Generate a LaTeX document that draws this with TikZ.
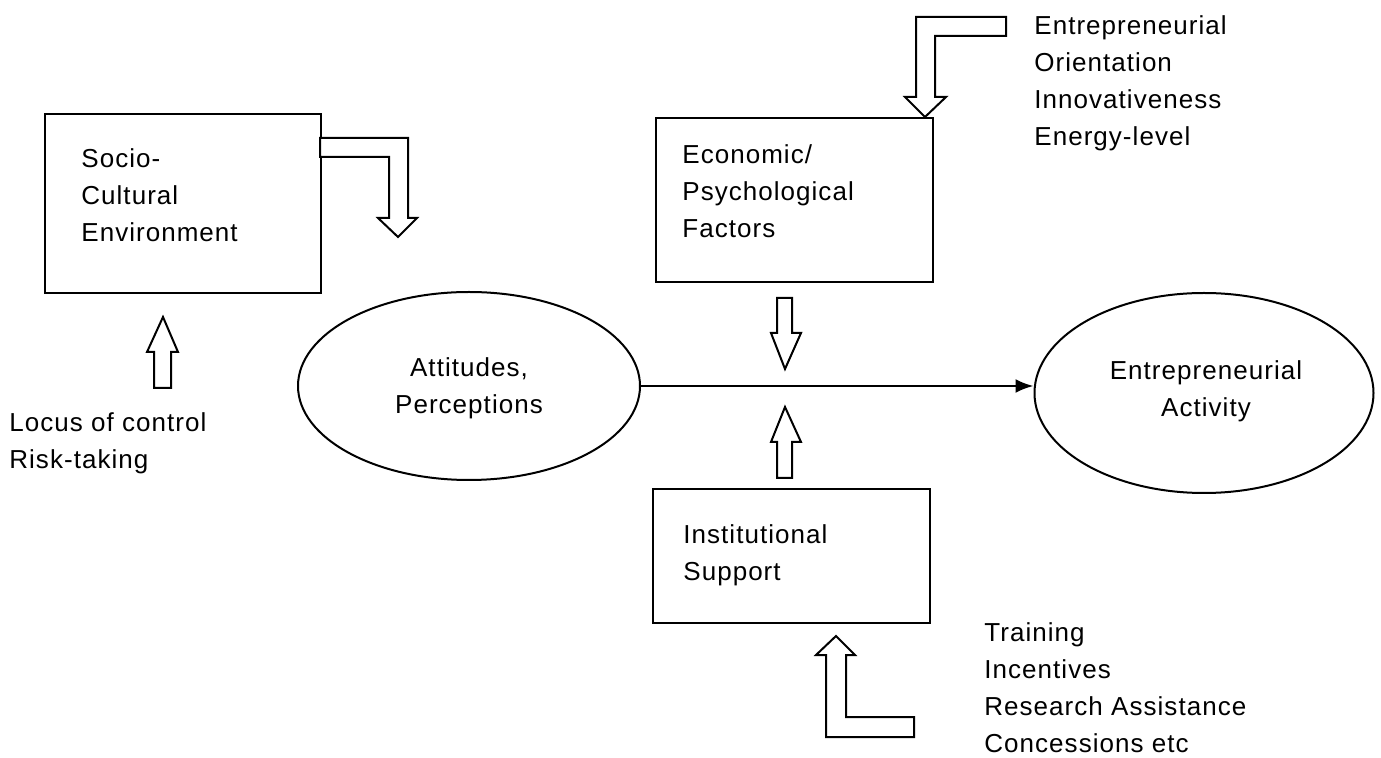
\documentclass[tikz,border=0pt]{standalone}
\usepackage{fontspec}
\setmainfont[LetterSpace=4]{Liberation Sans}
\usetikzlibrary{shapes.geometric,arrows.meta}
\begin{document}
\begin{tikzpicture}[x=0.5pt,y=-0.5pt,
  box/.style={draw,line width=1pt,rectangle,inner sep=0pt,anchor=north west},
  oval/.style={draw,line width=1pt,ellipse,inner sep=0pt},
  lbl/.style={inner sep=0pt,align=left,anchor=west,font=\fontsize{13}{18.5}\selectfont},
  clbl/.style={inner sep=0pt,align=center,font=\fontsize{13}{18.5}\selectfont},
  blk/.style={draw,line width=1pt,fill=white,line join=miter}]
\useasboundingbox (0,0) rectangle (1381,758);
% boxes
\node[box,minimum width=138pt,minimum height=89.5pt] (socio) at (44,113) {};
\node[box,minimum width=138.5pt,minimum height=82pt] (econ) at (655,117) {};
\node[box,minimum width=138.5pt,minimum height=67pt] (inst) at (652,488) {};
% ellipses
\node[oval,minimum width=171pt,minimum height=94pt] (att) at (469,386) {};
\node[oval,minimum width=169.5pt,minimum height=100pt] (act) at (1204,393) {};
% texts
\node[lbl] (tsocio) at (81,195) {Socio-\\Cultural\\Environment};
\node[lbl] (tecon) at (682,191) {Economic/\\Psychological\\Factors};
\node[lbl] (tinst) at (683,555) {Institutional\\Support};
\node[clbl] (tatt) at (469,388) {Attitudes,\\Perceptions};
\node[clbl] (tact) at (1206,391) {Entrepreneurial\\Activity};
\node[lbl] (tlocus) at (9,443) {Locus of control\\Risk-taking};
\node[lbl] (torient) at (1034,83) {Entrepreneurial\\Orientation\\Innovativeness\\Energy-level};
\node[lbl] (ttrain) at (984,688) {Training\\Incentives\\Research Assistance\\Concessions etc};
% main connector
\draw[line width=1.2pt,-{Latex[length=9pt,width=7pt]}] (att.east) -- (att.east -| act.west);
% block arrows
\draw[blk] (320,138) -- (408,138) -- (408,218) -- (417,218) -- (398,237) -- (378,218) -- (389,218) -- (389,157) -- (320,157) -- cycle;
\draw[blk] (1006,17) -- (916,17) -- (916,97) -- (905,97) -- (925,117) -- (946,97) -- (935,97) -- (935,36) -- (1006,36) -- cycle;
\draw[blk] (914,737) -- (826,737) -- (826,655) -- (816,655) -- (836,636) -- (855,655) -- (846,655) -- (846,717) -- (914,717) -- cycle;
\draw[blk] (777,298) -- (792,298) -- (792,333) -- (801,333) -- (785,369) -- (771,333) -- (777,333) -- cycle;
\draw[blk] (777,478) -- (792,478) -- (792,442) -- (801,442) -- (785,407) -- (771,442) -- (777,442) -- cycle;
\draw[blk] (154,388) -- (171,388) -- (171,352) -- (178,352) -- (163,317) -- (147,352) -- (154,352) -- cycle;
\end{tikzpicture}
\end{document}
